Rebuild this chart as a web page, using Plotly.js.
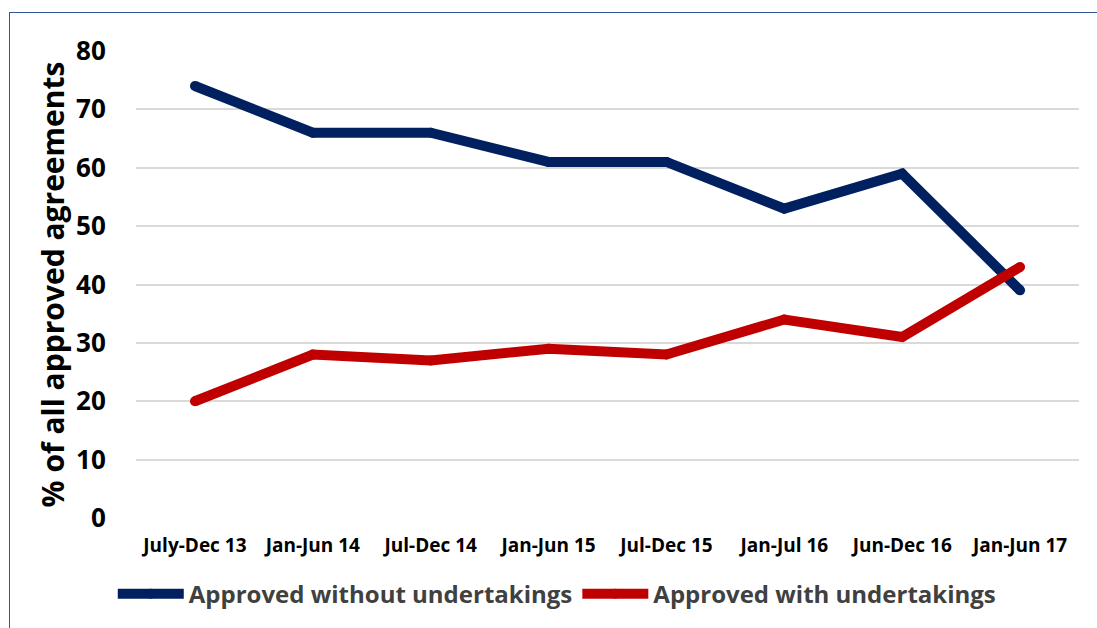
<!DOCTYPE html>
<html><head><meta charset="utf-8">
<script src="https://cdn.plot.ly/plotly-3.0.1.min.js"></script>
<style>
body{margin:0;padding:0;background:#fff;}
#wrap{position:relative;width:1097px;height:628px;overflow:hidden;}
#frame{position:absolute;left:9px;top:12px;width:1100px;height:700px;border-top:1.5px solid #2F5597;border-left:1.5px solid #2F5597;pointer-events:none;z-index:5;}
#chart{position:absolute;left:0;top:0;width:1097px;height:628px;}
</style></head>
<body><div id="wrap"><div id="chart"></div><div id="frame"></div></div>
<script>
var categories = ["July-Dec 13","Jan-Jun 14","Jul-Dec 14","Jan-Jun 15","Jul-Dec 15","Jan-Jul 16","Jun-Dec 16","Jan-Jun 17"];
var withoutUndertakings = [74,66,66,61,61,53,59,39];
var withUndertakings = [20,28,27,29,28,34,31,43];
var yTicks = [0,10,20,30,40,50,60,70,80];

var font = "'Open Sans', 'Liberation Sans', sans-serif";
var traces = [
 {x:categories,y:withoutUndertakings,name:"Approved without undertakings",type:"scatter",mode:"lines+markers",
  line:{color:"#002060",width:10},marker:{color:"#002060",size:10}},
 {x:categories,y:withUndertakings,name:"Approved with undertakings",type:"scatter",mode:"lines+markers",
  line:{color:"#C00000",width:10},marker:{color:"#C00000",size:10}}
];
var layout = {
 width:1097,height:628,
 margin:{l:136,r:18,t:51,b:110},
 paper_bgcolor:"#fff",plot_bgcolor:"#fff",
 showlegend:true,
 legend:{orientation:"h",xref:"container",yref:"container",x:0.508,xanchor:"center",y:0.054,yanchor:"middle",
   font:{family:font,size:24,color:"#404040",weight:"bold"},itemwidth:66,tracegroupgap:0,
   itemclick:false},
 xaxis:{type:"category",range:[-0.5,7.5],showgrid:false,zeroline:false,showline:false,
   ticks:"outside",ticklen:10,tickcolor:"rgba(0,0,0,0)",
   tickfont:{family:font,size:19,color:"#000",weight:"bold"}},
 yaxis:{range:[0,80],tickvals:yTicks,showgrid:true,gridcolor:"#D9D9D9",gridwidth:1.5,zeroline:false,showline:false,
   ticks:"outside",ticklen:24,tickcolor:"rgba(0,0,0,0)",
   tickfont:{family:font,size:26,color:"#000",weight:"bold"},
   title:{text:"% of all approved agreements",font:{family:font,size:30,color:"#000",weight:"bold"},standoff:2}}
};
Plotly.newPlot("chart",traces,layout,{displayModeBar:false});
</script></body></html>
